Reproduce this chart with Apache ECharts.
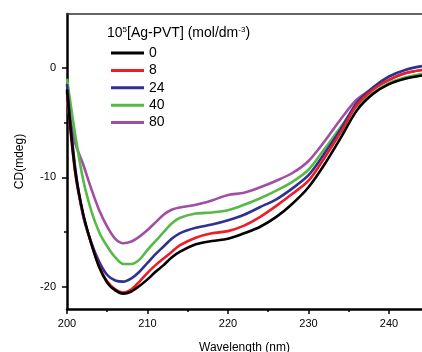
<!DOCTYPE html>
<html><head><meta charset="utf-8">
<script src="https://cdn.jsdelivr.net/npm/echarts@6/dist/echarts.min.js"></script>
<style>html,body{margin:0;padding:0;background:#fff}#c{width:422px;height:352px}</style>
</head><body><div id="c"></div>
<script>
const wavelengths = [200,201,202,203,204,205,206,207,208,209,210,211,212,213,214,216,218,220,222,224,226,228,230,232,234,236,238,240,242,244.1];
const seriesNames = ['0','8','24','40','80'];
const c0  = [-2.0,-9.3,-13.3,-16.0,-18.2,-19.6,-20.3,-20.6,-20.4,-19.9,-19.3,-18.6,-18.0,-17.3,-16.8,-16.1,-15.8,-15.6,-15.1,-14.5,-13.6,-12.4,-10.9,-8.8,-6.4,-3.9,-2.4,-1.5,-1.0,-0.7];
const c8  = [-2.2,-9.5,-13.4,-16.0,-18.1,-19.5,-20.2,-20.5,-20.2,-19.5,-18.7,-18.0,-17.4,-16.8,-16.2,-15.5,-15.1,-14.9,-14.4,-13.6,-12.6,-11.5,-10.3,-8.2,-5.9,-3.4,-2.0,-1.1,-0.5,-0.2];
const c24 = [-1.5,-9.0,-13.5,-15.9,-17.7,-18.9,-19.4,-19.5,-19.2,-18.6,-17.8,-17.0,-16.3,-15.6,-15.1,-14.6,-14.3,-13.9,-13.4,-12.7,-12.0,-11.0,-9.8,-7.8,-5.6,-3.2,-1.8,-0.8,-0.2,0.15];
const c40 = [-1.0,-6.0,-10.2,-13.0,-15.0,-16.3,-17.3,-17.9,-17.9,-17.5,-16.6,-15.8,-15.0,-14.2,-13.7,-13.3,-13.2,-13.0,-12.5,-11.9,-11.2,-10.4,-9.3,-7.4,-5.4,-3.5,-2.3,-1.4,-0.9,-0.55];
const c80 = [-3.0,-6.8,-8.8,-11.0,-13.0,-14.5,-15.6,-16.0,-15.85,-15.4,-14.8,-14.1,-13.4,-12.95,-12.75,-12.5,-12.1,-11.6,-11.4,-10.9,-10.3,-9.6,-8.5,-6.7,-4.7,-2.9,-1.9,-1.1,-0.5,-0.2];
const xMajorTicks = [200,210,220,230,240];
const xMinorTicks = [205,215,225,235];
const yMajorTicks = [-20,-10,0];
const yMinorTicks = [-15,-5];

const colors = ['#000000','#ee1d23','#2e3192','#58b947','#a04fa4'];
const allData = [c0,c8,c24,c40,c80];
const font = 'Liberation Sans, Arial, sans-serif';

const chart = echarts.init(document.getElementById('c'));
const series = allData.map((d,i)=>({
  name: seriesNames[i], type:'line', xAxisIndex:0, yAxisIndex:0,
  data: wavelengths.map((w,j)=>[w,d[j]]),
  smooth: 0.3, symbol:'none', showSymbol:false,
  lineStyle:{color:colors[i], width:2.6}, itemStyle:{color:colors[i]},
  z: 10-i
}));
chart.setOption({
  animation:false,
  textStyle:{fontFamily:font},
  grid:{left:67,right:0,top:14,bottom:43,containLabel:false,outerBoundsMode:'none'},
  legend:{
    orient:'vertical', left:106, top:41, icon:'rect', itemWidth:33, itemHeight:3, itemGap:3.4,
    textStyle:{fontSize:14, lineHeight:14, color:'#000', fontFamily:font},
    data: seriesNames
  },
  graphic:[{
    type:'text', left:107, top:26,
    style:{
      text:'10{sup|5}[Ag-PVT] (mol/dm{sup|-3})',
      font:'14px Liberation Sans', fill:'#000',
      rich:{sup:{fontSize:8, verticalAlign:'top', padding:[0,0,7,0], fill:'#000'}}
    }
  }],
  xAxis:[{
    type:'value', min:200, max:244.1, position:'bottom',
    name:'Wavelength (nm)', nameLocation:'middle', nameGap:33,
    nameTextStyle:{fontSize:12, color:'#000', fontFamily:font},
    axisLine:{show:true, onZero:false, lineStyle:{color:'#000', width:2.5}},
    axisTick:{show:true, customValues:xMajorTicks, length:5, inside:false, lineStyle:{color:'#000', width:1.5}},
    axisLabel:{customValues:xMajorTicks, fontSize:11, color:'#000', margin:9, fontFamily:font},
    splitLine:{show:false}
  },{
    type:'value', min:200, max:244.1, position:'bottom',
    axisLine:{show:false, onZero:false},
    axisTick:{show:true, customValues:xMinorTicks, length:3, lineStyle:{color:'#000', width:1.5}},
    axisLabel:{show:false}, splitLine:{show:false}
  },{
    type:'value', min:200, max:244.1, position:'top',
    axisLine:{show:true, onZero:false, lineStyle:{color:'#333', width:1.5}},
    axisTick:{show:false}, axisLabel:{show:false}, splitLine:{show:false}
  }],
  yAxis:[{
    type:'value', min:-22, max:4.9, position:'left',
    name:'CD(mdeg)', nameLocation:'middle', nameGap:41, nameRotate:90,
    nameTextStyle:{fontSize:12, color:'#000', fontFamily:font},
    axisLine:{show:true, onZero:false, lineStyle:{color:'#000', width:2.5}},
    axisTick:{show:true, customValues:yMajorTicks, length:5, lineStyle:{color:'#000', width:1.5}},
    axisLabel:{customValues:yMajorTicks, fontSize:11, color:'#000', margin:11, fontFamily:font},
    splitLine:{show:false}
  },{
    type:'value', min:-22, max:4.9, position:'left',
    axisLine:{show:false, onZero:false},
    axisTick:{show:true, customValues:yMinorTicks, length:3, lineStyle:{color:'#000', width:1.5}},
    axisLabel:{show:false}, splitLine:{show:false}
  }],
  series: series
});
</script></body></html>
